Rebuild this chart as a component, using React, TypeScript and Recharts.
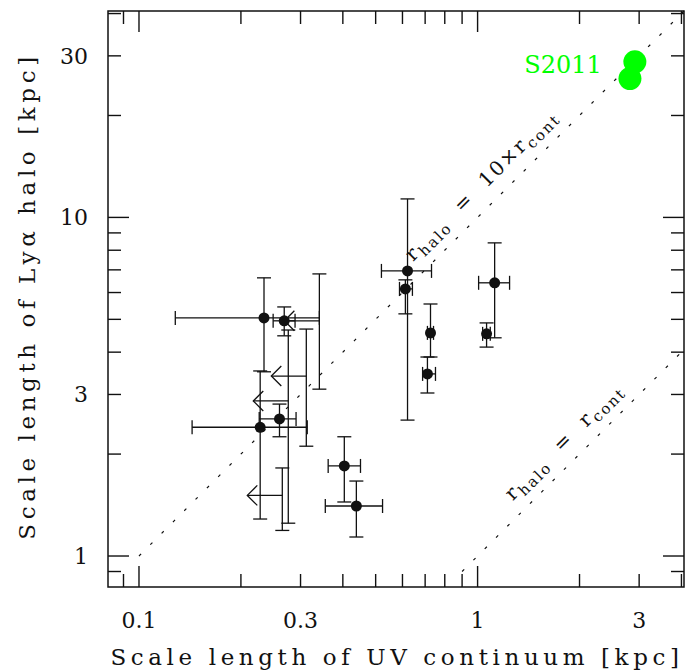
import React from 'react';
import { ErrorBar, ReferenceArea, ReferenceDot, ReferenceLine, Scatter, ScatterChart, XAxis, YAxis } from 'recharts';

// axis ranges (kpc)
const xDomain = [0.081, 4.07];
const yDomain = [0.81, 40.7];
const xTicks = [0.09, 0.1, 0.2, 0.3, 0.4, 0.5, 0.6, 0.7, 0.8, 0.9, 1, 2, 3, 4];
const yTicks = [0.9, 1, 2, 3, 4, 5, 6, 7, 8, 9, 10, 20, 30, 40];
const xTickLabels = [0.1, 0.3, 1, 3];
const yTickLabels = [1, 3, 10, 30];
const decadeTicks = [0.1, 1, 10];

// detections: UV continuum scale length vs Lya halo scale length, with error range ends
const detX = [0.234, 0.2685, 0.228, 0.26, 0.621, 0.612, 0.726, 0.711, 1.123, 1.063, 0.404, 0.4385];
const detY = [5.05, 4.95, 2.4, 2.54, 6.95, 6.15, 4.56, 3.45, 6.41, 4.53, 1.845, 1.405];
const detXLo = [0.128, 0.249, 0.1435, 0.2265, 0.52, 0.588, 0.711, 0.688, 1.007, 1.035, 0.362, 0.355];
const detXHi = [0.341, 0.289, 0.314, 0.291, 0.731, 0.642, 0.741, 0.751, 1.243, 1.09, 0.451, 0.524];
const detYLo = [3.5, 4.47, 1.286, 2.25, 2.52, 5.19, 3.87, 3.03, 4.41, 4.14, 1.444, 1.138];
const detYHi = [6.63, 5.44, 3.52, 2.81, 11.34, 6.54, 5.55, 3.87, 8.41, 4.88, 2.25, 1.665];

// upper limits on r_cont
const limX = [0.341, 0.276, 0.312, 0.265];
const limY = [4.95, 2.87, 3.4, 1.51];
const limYLo = [3.11, 1.25, 2.11, 1.19];
const limYHi = [6.81, 4.65, 4.68, 1.82];

// S2011
const s2011X = [2.914, 2.818];
const s2011Y = [28.8, 25.7];

// r_halo = k * r_cont lines
const tenLine = [{ x: 0.1, y: 1 }, { x: 4.07, y: 40.7 }];
const oneLine = [{ x: 0.9, y: 0.9 }, { x: 4.07, y: 4.07 }];
const tenLabelAt = { x: 0.645, y: 7.39 };
const oneLabelAt = { x: 1.27, y: 1.45 };

const PLOT_W = 576;
const PLOT_H = 576;
const FONT = 'DejaVu Serif';
const INK = '#111';

const detData = detX.map((x, i) => ({
    x,
    y: detY[i],
    ex: [x - detXLo[i], detXHi[i] - x],
    ey: [detY[i] - detYLo[i], detYHi[i] - detY[i]],
}));
const limData = limX.map((x, i) => ({ x, y: limY[i], ey: [limY[i] - limYLo[i], limYHi[i] - limY[i]] }));
const s2011Data = s2011X.map((x, i) => ({ x, y: s2011Y[i] }));

// ticks point inwards on all four sides; the XAxis/YAxis sit on the plot edge
const XTick = ({ x, y, payload }: any) => {
    const v = payload.value;
    const len = decadeTicks.includes(v) ? 21 : 13;
    return (
        <g>
            <line x1={x} y1={y} x2={x} y2={y - len} stroke={INK} strokeWidth={1.4} />
            <line x1={x} y1={y - PLOT_H} x2={x} y2={y - PLOT_H + len} stroke={INK} strokeWidth={1.4} />
            {xTickLabels.includes(v) && (
                <text x={x} y={y + 41} textAnchor="middle" fontFamily={FONT} fontSize={22} fill={INK}>
                    {v}
                </text>
            )}
        </g>
    );
};

const YTick = ({ x, y, payload }: any) => {
    const v = payload.value;
    const len = decadeTicks.includes(v) ? 21 : 13;
    return (
        <g>
            <line x1={x} y1={y} x2={x + len} y2={y} stroke={INK} strokeWidth={1.4} />
            <line x1={x + PLOT_W} y1={y} x2={x + PLOT_W - len} y2={y} stroke={INK} strokeWidth={1.4} />
            {yTickLabels.includes(v) && (
                <text x={x - 20} y={y + 8} textAnchor="end" fontFamily={FONT} fontSize={22} fill={INK}>
                    {v}
                </text>
            )}
        </g>
    );
};

const Dot = ({ cx, cy }: any) => <circle cx={cx} cy={cy} r={5.5} fill={INK} />;

const LimitArrow = ({ cx, cy }: any) => (
    <g stroke={INK} strokeWidth={1.3} fill="none">
        <line x1={cx} y1={cy} x2={cx - 35} y2={cy} />
        <polyline points={`${cx - 25},${cy - 10} ${cx - 35},${cy} ${cx - 25},${cy + 10}`} />
    </g>
);

const Blob = ({ cx, cy }: any) => <circle cx={cx} cy={cy} r={11.5} fill="#00ff00" />;

const lineLabel = (factor: string) => ({ cx, cy }: any) => (
    <text
        x={cx}
        y={cy}
        transform={`rotate(-45 ${cx} ${cy})`}
        fontFamily={FONT}
        fontSize={20}
        fill={INK}
        letterSpacing={2}
        style={{ whiteSpace: 'pre' }}
    >
        <tspan>r</tspan>
        <tspan fontSize={15} dy={5}>halo</tspan>
        <tspan dy={-5}>{`  =  ${factor}r`}</tspan>
        <tspan fontSize={15} dy={5}>cont</tspan>
    </text>
);

const App = () => {
    return (
        <div style={{ position: 'absolute', left: 0, top: 0, width: 686, height: 672, background: '#fff' }}>
            <ScatterChart width={686} height={672} margin={{ top: 11, right: 2, bottom: 84, left: 107 }}>
                <XAxis
                    type="number"
                    dataKey="x"
                    scale="log"
                    domain={xDomain}
                    ticks={xTicks}
                    interval={0}
                    height={1}
                    tickSize={0}
                    tickMargin={0}
                    axisLine={false}
                    tickLine={false}
                    allowDataOverflow
                    tick={(p: any) => <XTick {...p} />}
                />
                <YAxis
                    type="number"
                    dataKey="y"
                    scale="log"
                    domain={yDomain}
                    ticks={yTicks}
                    interval={0}
                    width={1}
                    tickSize={0}
                    tickMargin={0}
                    axisLine={false}
                    tickLine={false}
                    allowDataOverflow
                    tick={(p: any) => <YTick {...p} />}
                />
                <ReferenceArea x1={xDomain[0]} x2={xDomain[1]} y1={yDomain[0]} y2={yDomain[1]} fill="none" fillOpacity={0} stroke={INK} strokeWidth={1.5} />
                <ReferenceLine segment={tenLine} stroke={INK} strokeWidth={1.2} strokeDasharray="3 13" />
                <ReferenceLine segment={oneLine} stroke={INK} strokeWidth={1.2} strokeDasharray="3 13" />
                <ReferenceDot x={tenLabelAt.x} y={tenLabelAt.y} r={0} shape={lineLabel('10×')} />
                <ReferenceDot x={oneLabelAt.x} y={oneLabelAt.y} r={0} shape={lineLabel('')} />
                <Scatter data={limData} shape={<LimitArrow />} isAnimationActive={false}>
                    <ErrorBar dataKey="ey" direction="y" width={7} stroke={INK} strokeWidth={1.3} isAnimationActive={false} />
                </Scatter>
                <Scatter data={detData} shape={<Dot />} isAnimationActive={false}>
                    <ErrorBar dataKey="ex" direction="x" width={7} stroke={INK} strokeWidth={1.3} isAnimationActive={false} />
                    <ErrorBar dataKey="ey" direction="y" width={7} stroke={INK} strokeWidth={1.3} isAnimationActive={false} />
                </Scatter>
                <Scatter data={s2011Data} shape={<Blob />} isAnimationActive={false} />
            </ScatterChart>
            <div
                style={{
                    position: 'absolute',
                    left: 563,
                    top: 65,
                    transform: 'translate(-50%, -50%)',
                    fontFamily: FONT,
                    fontSize: 24,
                    lineHeight: 1,
                    color: '#00ff00',
                    whiteSpace: 'nowrap',
                }}
            >
                S2011
            </div>
            <div
                style={{
                    position: 'absolute',
                    left: 397,
                    top: 657,
                    transform: 'translate(-50%, -50%)',
                    fontFamily: FONT,
                    fontSize: 23,
                    lineHeight: 1,
                    letterSpacing: 4.6,
                    color: INK,
                    whiteSpace: 'nowrap',
                }}
            >
                Scale length of UV continuum [kpc]
            </div>
            <div
                style={{
                    position: 'absolute',
                    left: 27,
                    top: 296,
                    transform: 'translate(-50%, -50%) rotate(-90deg)',
                    fontFamily: FONT,
                    fontSize: 23,
                    lineHeight: 1,
                    letterSpacing: 4.6,
                    color: INK,
                    whiteSpace: 'nowrap',
                }}
            >
                Scale length of Lyα halo [kpc]
            </div>
        </div>
    );
};

export default App;
